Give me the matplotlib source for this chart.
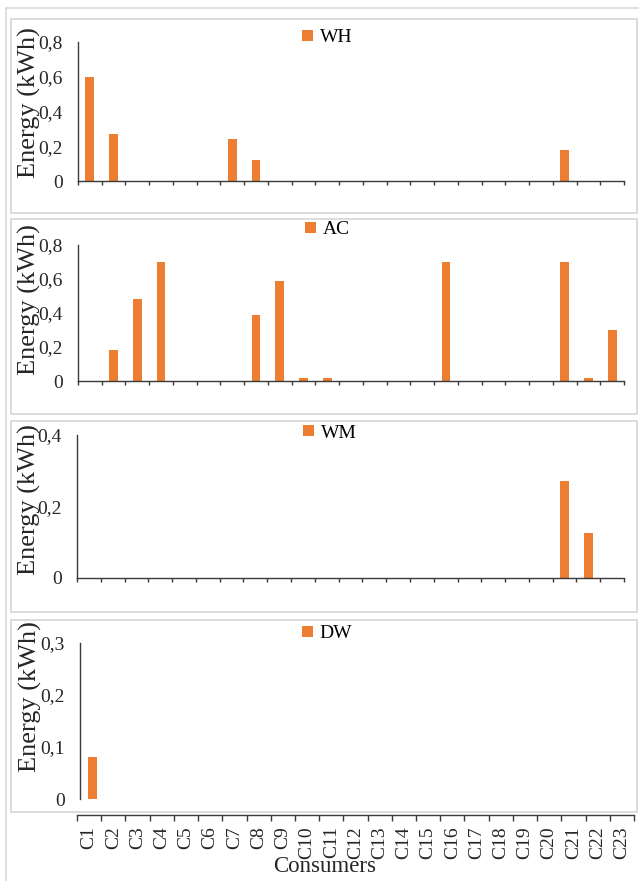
import numpy as np
import matplotlib
matplotlib.use('Agg')
import matplotlib.pyplot as plt
from matplotlib.patches import Rectangle

plt.rcParams['font.family'] = ['Liberation Serif', 'DejaVu Serif']

consumers = ['C1', 'C2', 'C3', 'C4', 'C5', 'C6', 'C7', 'C8', 'C9', 'C10', 'C11', 'C12',
             'C13', 'C14', 'C15', 'C16', 'C17', 'C18', 'C19', 'C20', 'C21', 'C22', 'C23']
wh = [0.60, 0.27, 0, 0, 0, 0, 0.24, 0.12, 0, 0, 0, 0, 0, 0, 0, 0, 0, 0, 0, 0, 0.18, 0, 0]
ac = [0, 0.18, 0.48, 0.70, 0, 0, 0, 0.39, 0.59, 0.02, 0.02, 0, 0, 0, 0, 0.70, 0, 0, 0, 0, 0.70, 0.02, 0.30]
wm = [0, 0, 0, 0, 0, 0, 0, 0, 0, 0, 0, 0, 0, 0, 0, 0, 0, 0, 0, 0, 0.27, 0.125, 0]
dw = [0.08, 0, 0, 0, 0, 0, 0, 0, 0, 0, 0, 0, 0, 0, 0, 0, 0, 0, 0, 0, 0, 0, 0]

W, H = 639, 881
ORANGE = '#ED7D31'
AXC = '#3a3a3a'
BOX = '#d9d9d9'

fig = plt.figure(figsize=(W / 100, H / 100), dpi=100)


def px_rect(left, top, right, bottom):
    # pixel box -> figure fraction [l, b, w, h]
    return [left / W, 1 - bottom / H, (right - left) / W, (bottom - top) / H]


def fmt(v):
    return '0' if v == 0 else ('%.1f' % v).replace('.', ',')


# outer frame (only top and left visible)
fig.patches.append(Rectangle((6 / W, -0.5), 2, 1 - 8 / H + 0.5, transform=fig.transFigure,
                             fill=False, edgecolor=BOX, lw=1.2))

# panel boxes
boxes = [(11, 19, 637, 213), (11, 219, 637, 414), (11, 421, 637, 612), (11, 620, 637, 812)]
for l, t, r, b in boxes:
    fig.patches.append(Rectangle((l / W, 1 - b / H), (r - l) / W, (b - t) / H,
                                 transform=fig.transFigure, fill=False, edgecolor=BOX, lw=1.3))

x = np.arange(len(consumers))

panels = [
    ('WH', wh, (78, 42, 624, 181), [0, 0.2, 0.4, 0.6, 0.8], (29, 103), (302, 38)),
    ('AC', ac, (78, 245, 624, 381), [0, 0.2, 0.4, 0.6, 0.8], (29, 300), (305, 230)),
    ('WM', wm, (77, 435, 624, 578), [0, 0.2, 0.4], (29, 500), (303, 433)),
    ('DW', dw, (80, 643, 655, 799), [0, 0.1, 0.2, 0.3], (30, 697), (302, 634)),
]

for name, vals, (l, t, r, b), yt, lab, leg in panels:
    ax = fig.add_axes(px_rect(l, t, r, b))
    ax.set_facecolor('none')
    bars = ax.bar(x, vals, width=0.37, color=ORANGE, linewidth=0, label=name)
    ax.set_xlim(-0.5, 22.5)
    ax.set_ylim(0, yt[-1])
    ax.set_yticks(yt)
    ax.set_yticklabels([fmt(v) for v in yt], fontsize=14, color='#262626')
    ax.tick_params(axis='y', length=0, pad=11)
    for s in ['top', 'right']:
        ax.spines[s].set_visible(False)
    ax.spines['left'].set_color(AXC)
    ax.spines['left'].set_linewidth(1.0)
    if name == 'DW':
        ax.spines['bottom'].set_visible(False)
        ax.set_xticks([])
    else:
        ax.spines['bottom'].set_color(AXC)
        ax.spines['bottom'].set_linewidth(1.0)
        ax.set_xticks(np.arange(-0.5, 23, 1))
        ax.set_xticklabels([])
        ax.tick_params(axis='x', length=3, width=1.0, color=AXC, direction='out')
    fig.text(lab[0] / W, 1 - lab[1] / H, 'Energy (kWh)', rotation=90, ha='center', va='center',
             fontsize=19, color='#262626')
    ax.legend(handles=[bars], loc='center left', bbox_to_anchor=(leg[0] / W, 1 - leg[1] / H),
              bbox_transform=fig.transFigure, frameon=False, fontsize=14,
              handlelength=0.55, handleheight=0.55, handletextpad=0.35,
              borderpad=0, borderaxespad=0)

# shared category axis at the bottom
axx = fig.add_axes(px_rect(77, 805, 634, 815))
axx.set_facecolor('none')
axx.set_xlim(-0.5, 22.5)
axx.set_ylim(0, 1)
for s in ['top', 'right', 'left']:
    axx.spines[s].set_visible(False)
axx.spines['bottom'].set_color(AXC)
axx.spines['bottom'].set_linewidth(1.0)
axx.set_yticks([])
axx.set_xticks(np.arange(-0.5, 23, 1), minor=True)
axx.set_xticks(x)
axx.set_xticklabels(consumers, rotation=90, fontsize=14, color='#262626')
axx.tick_params(axis='x', which='major', length=0, pad=8)
axx.tick_params(axis='x', which='minor', length=4.5, width=1.0, color=AXC)

fig.text(325 / W, 1 - 867 / H, 'Consumers', ha='center', va='center', fontsize=16.5, color='#262626')

fig.savefig('out.png', dpi=100)
